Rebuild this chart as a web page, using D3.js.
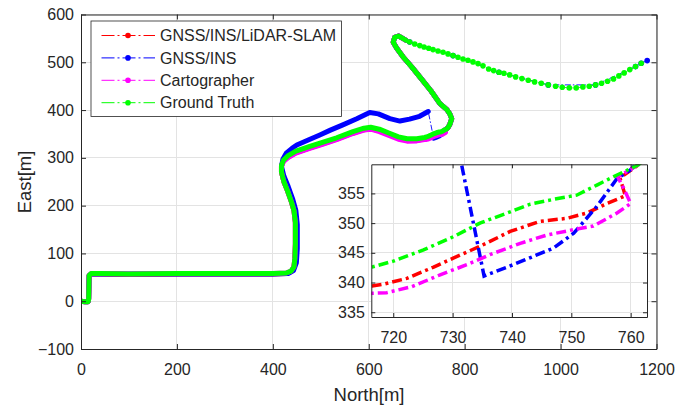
<!DOCTYPE html>
<html>
<head>
<meta charset="utf-8">
<script src="https://cdn.jsdelivr.net/npm/d3@7/dist/d3.min.js"></script>
<style>
  body { margin: 0; background: #fff; }
  svg { display: block; font-family: "Liberation Sans", Arial, sans-serif; }
  .axis text { font-size: 16px; fill: #262626; font-family: "Liberation Sans", Arial, sans-serif; }
  .axis path, .axis line { stroke: #262626; }
  .grid line { stroke: #e3e3e3; stroke-width: 1; }
  .label { font-size: 18.5px; fill: #262626; }
  .legend text { font-size: 16px; fill: #262626; }
</style>
</head>
<body>
<svg width="675" height="407"></svg>
<script>
// set global constants
const seriesNames = ["GNSS/INS/LiDAR-SLAM", "GNSS/INS", "Cartographer", "Ground Truth"];
const seriesColors = ["#ff0000", "#0000ff", "#ff00ff", "#00ff00"];

const xTicks = [0, 200, 400, 600, 800, 1000, 1200];
const yTicks = [-100, 0, 100, 200, 300, 400, 500, 600];
const insetXTicks = [720, 730, 740, 750, 760];
const insetYTicks = [335, 340, 345, 350, 355];

// trajectories as [north, east] in metres
const slamTrack = [
  [0, 0], [8, -1], [15, -1], [16, 5], [17, 54], [21, 57], [40, 57], [100, 56], [200, 57], [300, 57],
  [400, 57], [428, 58], [438, 62], [444, 71], [446, 90], [447, 120], [447, 165], [444, 190], [439, 207],
  [431, 230], [423, 250], [418, 270], [418, 283], [422, 293], [431, 301], [448, 311], [477, 321],
  [505, 330], [533, 339], [567, 352], [590, 359], [604, 361], [622, 357], [642, 349], [662, 341],
  [680, 337], [700, 337], [716.4, 339.4], [718.3, 339.7], [722.3, 340.7], [726.8, 342.6], [730.1, 344.1],
  [734.6, 346.1], [739.7, 348.6], [744.7, 350.3], [749.2, 350.8], [752.6, 351.7], [756, 353.3],
  [759.1, 354.6], [758.2, 357.6], [761.3, 359.8], [765, 363], [769, 370], [773, 382], [769, 392],
  [763, 401], [748, 414], [730, 440], [706, 470], [690, 490], [671, 512], [658, 530], [651, 542],
  [654, 552], [662, 555], [671, 550], [678, 546]
];

const gnssBefore = [
  [0, 0], [8, -1], [15, -1], [16, 5], [17, 54], [21, 57], [40, 57], [100, 57], [200, 57], [300, 57],
  [400, 57], [432, 58], [443, 64], [449, 80], [451, 110], [451, 160], [448, 190], [441, 215],
  [432, 240], [423, 262], [418, 282], [421, 297], [428, 310], [440, 320], [450, 327], [475, 338],
  [498, 348], [520, 358], [546, 369], [575, 382], [602, 395], [620, 392], [644, 382], [665, 377],
  [685, 381], [706, 387], [724, 397]
];
const gnssAfter = [
  [735.3, 341.1], [740.2, 343], [747, 345.8], [750.4, 348.3], [754.3, 352.8], [757.7, 357.5],
  [759.9, 358.9], [762, 361], [765, 363], [769, 370], [773, 382], [769, 392], [763, 401], [748, 414],
  [730, 440], [706, 470], [690, 490], [671, 512], [658, 530], [651, 542], [654, 552], [662, 555],
  [671, 550], [678, 546]
];
const gnssTail = [
  [685.4, 542.5], [775.7, 514], [871.5, 479.2], [974.3, 452.7], [1072.9, 452.7], [1156.3, 491],
  [1168.1, 498], [1180.6, 503.5]
];

const cartoTrack = [
  [0, 0], [8, -1], [15, -1], [16, 5], [17, 54], [21, 58], [40, 58], [100, 57], [200, 58], [300, 58],
  [400, 58], [428, 59], [438, 63], [444, 72], [446, 90], [447, 120], [447, 165], [444, 190], [439, 207],
  [431, 230], [423, 250], [418, 270], [418, 282], [422, 292], [431, 300], [448, 310], [477, 320],
  [505, 329], [533, 338], [567, 351], [590, 358], [604, 360], [622, 355], [642, 347], [662, 339],
  [680, 335], [700, 335.5], [716.4, 338.2], [718.9, 338.3], [723.1, 339.3], [727.9, 341.3],
  [732.4, 343], [736.3, 344.7], [741.4, 346.6], [745.9, 348], [750.4, 348.9], [753.7, 349.5],
  [757.7, 351.7], [760, 353.3], [758.8, 355.9], [757.8, 357.8], [761.3, 359.8], [765, 363], [769, 370],
  [773, 382], [769, 392], [763, 401], [748, 414], [730, 440], [706, 470], [690, 490], [671, 512],
  [658, 530], [651, 542], [654, 552], [662, 555], [671, 550], [678, 546]
];

const truthTrack = [
  [0, 0], [8, -1], [15, -1], [16, 5], [17, 54], [21, 58], [40, 58], [100, 57], [200, 58], [300, 58],
  [400, 58], [428, 59], [438, 63], [444, 72], [446, 90], [447, 120], [447, 165], [444, 190], [439, 207],
  [431, 230], [423, 250], [418, 270], [418, 284], [422, 295], [431, 304], [448, 314], [477, 324],
  [505, 333], [533, 342], [567, 355], [590, 362], [604, 364], [622, 360], [642, 352], [662, 344],
  [680, 340], [700, 340], [716.4, 342.6], [720, 343.6], [725.1, 345.5], [730.1, 347.7], [734.6, 350],
  [739.7, 351.9], [743.1, 353.2], [747, 354], [750.9, 354.7], [754.3, 356.4], [757.7, 358.1],
  [761.3, 359.8], [765, 363], [769, 370], [773, 382], [769, 392], [763, 401], [748, 414], [730, 440],
  [706, 470], [690, 490], [671, 512], [658, 530], [651, 542], [654, 552], [662, 555], [671, 550],
  [678, 546]
];
const truthTail = [
  [685.4, 542.5], [695.8, 538.4], [706.3, 534.9], [715.3, 532.1], [725, 529.3], [734, 526.5],
  [744.4, 523.7], [754.9, 521], [765.3, 517.5], [775.7, 514], [786.1, 510.5], [796.5, 507],
  [806.9, 504.2], [817.4, 500.8], [827.8, 497.3], [838.2, 492.5], [850, 486.1], [860.4, 482.6],
  [871.5, 479.2], [881.9, 477.1], [893.8, 473.6], [906.3, 469.4], [919.4, 465.9], [932.6, 462.5],
  [945.8, 459], [959.7, 456.2], [974.3, 452.7], [989.6, 449.9], [1003.5, 447.8], [1018.1, 446.4],
  [1032.6, 446.4], [1046.5, 448.5], [1059.7, 449.9], [1072.9, 452.7], [1085.4, 456.2], [1097.9, 460.4],
  [1110.4, 465.2], [1121.5, 471.5], [1132.6, 477.8], [1144.4, 484.7], [1156.3, 491], [1168.1, 498]
];

// group tracks per series (legend order = draw order)
const series = [
  { name: seriesNames[0], color: seriesColors[0], bands: [slamTrack], tail: [] },
  { name: seriesNames[1], color: seriesColors[1], bands: [gnssBefore, gnssAfter], tail: gnssTail },
  { name: seriesNames[2], color: seriesColors[2], bands: [cartoTrack], tail: [] },
  { name: seriesNames[3], color: seriesColors[3], bands: [truthTrack], tail: truthTail }
];
series.forEach(s => { s.all = [].concat(...s.bands, s.tail); });

const svg = d3.select("svg");

const x = d3.scaleLinear().domain([0, 1200]).range([81, 656.5]);
const y = d3.scaleLinear().domain([-100, 600]).range([349, 14.5]);

const ix = d3.scaleLinear().domain([716.3, 762.75]).range([371.3, 647]);
const iy = d3.scaleLinear().domain([334.2, 359.9]).range([317, 164.3]);

const line = d3.line().x(d => x(d[0])).y(d => y(d[1]));
const insetLine = d3.line().x(d => ix(d[0])).y(d => iy(d[1]));
const fmt = d3.format("d");

svg.append("defs").append("clipPath")
  .attr("id", "main-clip")
  .append("rect")
  .attr("x", x(0)).attr("y", y(600))
  .attr("width", x(1200) - x(0)).attr("height", y(-100) - y(600));

svg.select("defs").append("clipPath")
  .attr("id", "inset-clip")
  .append("rect")
  .attr("x", ix.range()[0]).attr("y", iy.range()[1])
  .attr("width", ix.range()[1] - ix.range()[0]).attr("height", iy.range()[0] - iy.range()[1]);

// main grid
const grid = svg.append("g").attr("class", "grid").attr("shape-rendering", "crispEdges");
grid.selectAll(".gx").data(xTicks).enter().append("line")
  .attr("x1", d => x(d)).attr("x2", d => x(d))
  .attr("y1", y(-100)).attr("y2", y(600));
grid.selectAll(".gy").data(yTicks).enter().append("line")
  .attr("x1", x(0)).attr("x2", x(1200))
  .attr("y1", d => y(d)).attr("y2", d => y(d));

// main trajectories
const main = svg.append("g").attr("clip-path", "url(#main-clip)");
series.forEach(s => {
  const g = main.append("g");
  g.selectAll(".band").data(s.bands).enter().append("path")
    .attr("d", line)
    .attr("fill", "none")
    .attr("stroke", s.color)
    .attr("stroke-width", 5)
    .attr("stroke-linejoin", "round")
    .attr("stroke-linecap", "round");
  g.append("path")
    .attr("d", line(s.all))
    .attr("fill", "none")
    .attr("stroke", s.color)
    .attr("stroke-width", 0.9)
    .attr("stroke-dasharray", "6,2,1.5,2");
  g.selectAll(".dot").data(s.tail).enter().append("circle")
    .attr("cx", d => x(d[0]))
    .attr("cy", d => y(d[1]))
    .attr("r", 2.8)
    .attr("fill", s.color);
});

// main axes
function styleAxis(g) {
  g.attr("class", "axis").attr("font-family", null).attr("font-size", null);
}
svg.append("g").attr("transform", `translate(0,${y(-100)})`)
  .call(d3.axisBottom(x).tickValues(xTicks).tickFormat(fmt).tickSize(-5).tickSizeOuter(0).tickPadding(14.5))
  .call(styleAxis);
svg.append("g").attr("transform", `translate(0,${y(600)})`)
  .call(d3.axisTop(x).tickValues(xTicks).tickSize(-5).tickSizeOuter(0).tickFormat(""))
  .call(styleAxis);
svg.append("g").attr("transform", `translate(${x(0)},0)`)
  .call(d3.axisLeft(y).tickValues(yTicks).tickFormat(fmt).tickSize(-5).tickSizeOuter(0).tickPadding(7))
  .call(styleAxis);
svg.append("g").attr("transform", `translate(${x(1200)},0)`)
  .call(d3.axisRight(y).tickValues(yTicks).tickSize(-5).tickSizeOuter(0).tickFormat(""))
  .call(styleAxis);

// axis labels
svg.append("text")
  .attr("class", "label")
  .attr("x", 369).attr("y", 401)
  .attr("text-anchor", "middle")
  .text("North[m]");
svg.append("text")
  .attr("class", "label")
  .attr("transform", "translate(31,182) rotate(-90)")
  .attr("text-anchor", "middle")
  .text("East[m]");

// legend
const legend = svg.append("g").attr("class", "legend");
legend.append("rect")
  .attr("x", 91).attr("y", 21)
  .attr("width", 250.5).attr("height", 95.5)
  .attr("fill", "#fff")
  .attr("stroke", "#262626")
  .attr("stroke-width", 0.8);
const rows = legend.selectAll(".row").data(series).enter().append("g")
  .attr("transform", (d, i) => `translate(0,${35.5 + i * 22.4})`);
rows.append("line")
  .attr("x1", 101.5).attr("x2", 155)
  .attr("stroke", d => d.color)
  .attr("stroke-width", 1)
  .attr("stroke-dasharray", "13,3,2,3");
rows.append("circle")
  .attr("cx", 128).attr("r", 2.8)
  .attr("fill", d => d.color);
rows.append("text")
  .attr("x", 160)
  .attr("dy", "0.35em")
  .text(d => d.name);

// inset
const inset = svg.append("g");
inset.append("rect")
  .attr("x", ix.range()[0]).attr("y", iy.range()[1])
  .attr("width", ix.range()[1] - ix.range()[0]).attr("height", iy.range()[0] - iy.range()[1])
  .attr("fill", "#fff");

const igrid = inset.append("g").attr("class", "grid").attr("shape-rendering", "crispEdges");
igrid.selectAll(".gx").data(insetXTicks).enter().append("line")
  .attr("x1", d => ix(d)).attr("x2", d => ix(d))
  .attr("y1", iy.range()[0]).attr("y2", iy.range()[1]);
igrid.selectAll(".gy").data(insetYTicks).enter().append("line")
  .attr("x1", ix.range()[0]).attr("x2", ix.range()[1])
  .attr("y1", d => iy(d)).attr("y2", d => iy(d));

const idata = inset.append("g").attr("clip-path", "url(#inset-clip)");
series.forEach(s => {
  idata.append("path")
    .attr("d", insetLine(s.all))
    .attr("fill", "none")
    .attr("stroke", s.color)
    .attr("stroke-width", 3.5)
    .attr("stroke-dasharray", "10,4,3,4");
});

inset.append("g").attr("transform", `translate(0,${iy.range()[0]})`)
  .call(d3.axisBottom(ix).tickValues(insetXTicks).tickFormat(fmt).tickSize(-4).tickSizeOuter(0).tickPadding(14.5))
  .call(styleAxis);
inset.append("g").attr("transform", `translate(0,${iy.range()[1]})`)
  .call(d3.axisTop(ix).tickValues(insetXTicks).tickSize(-4).tickSizeOuter(0).tickFormat(""))
  .call(styleAxis);
inset.append("g").attr("transform", `translate(${ix.range()[0]},0)`)
  .call(d3.axisLeft(iy).tickValues(insetYTicks).tickFormat(fmt).tickSize(-4).tickSizeOuter(0).tickPadding(6.5))
  .call(styleAxis);
inset.append("g").attr("transform", `translate(${ix.range()[1]},0)`)
  .call(d3.axisRight(iy).tickValues(insetYTicks).tickSize(-4).tickSizeOuter(0).tickFormat(""))
  .call(styleAxis);
</script>
</body>
</html>
